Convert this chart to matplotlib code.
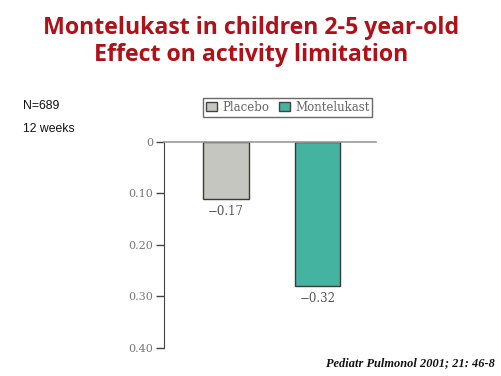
import matplotlib.pyplot as plt
from matplotlib.patches import Patch

# data
groups = ['Placebo', 'Montelukast']
bar_values = [-0.11, -0.28]          # drawn bar lengths
value_labels = ['\u22120.17', '\u22120.32']  # labels printed under the bars
y_ticks = [0, -0.10, -0.20, -0.30, -0.40]
y_ticklabels = ['0', '0.10', '0.20', '0.30', '0.40']
colors = ['#c6c6c0', '#44b3a0']

fig = plt.figure(figsize=(5.02, 3.76), dpi=100)
ax = fig.add_axes([0.3267, 0.0745, 0.4223, 0.5479])

x = range(len(groups))
bars = ax.bar(x, bar_values, width=0.5, color=colors, edgecolor='#3a3a3a', linewidth=1.0, zorder=2)

for xi, v, lab in zip(x, bar_values, value_labels):
    ax.text(xi, v - 0.012, lab, ha='center', va='top', fontsize=8.5,
            family='DejaVu Serif', color='#555555')

ax.set_xlim(-0.68, 1.64)
ax.set_ylim(-0.40, 0)
ax.set_yticks(y_ticks)
ax.set_yticklabels(y_ticklabels, family='DejaVu Serif', fontsize=8, color='#777777')
ax.set_xticks([])
ax.tick_params(axis='y', direction='out', length=6, width=1, color='#444444', pad=2)

for s in ['right', 'bottom']:
    ax.spines[s].set_visible(False)
ax.spines['left'].set_color('#444444')
ax.spines['top'].set_color('#999999')
ax.spines['top'].set_linewidth(1.2)

handles = [Patch(facecolor=c, edgecolor='#444444', label=g) for c, g in zip(colors, groups)]
fig.legend(handles=handles, loc='center', bbox_to_anchor=(287.5 / 502, 1 - 107.5 / 376),
           ncol=2, frameon=True, fancybox=False, edgecolor='#444444',
           prop={'family': 'DejaVu Serif', 'size': 8.5}, labelcolor='#666666',
           handlelength=1.0, handleheight=0.8, handletextpad=0.4, columnspacing=0.8,
           borderpad=0.25, borderaxespad=0)

fig.text(0.5, 1 - 28 / 376, 'Montelukast in children 2-5 year-old', ha='center', va='center',
         fontsize=16.7, fontweight='bold', family='Open Sans', color='#b01018')
fig.text(0.5, 1 - 55 / 376, 'Effect on activity limitation', ha='center', va='center',
         fontsize=16.7, fontweight='bold', family='Open Sans', color='#b01018')

fig.text(23 / 502, 1 - 106 / 376, 'N=689', ha='left', va='center', fontsize=8.8,
         family='Liberation Sans', color='#111111')
fig.text(23 / 502, 1 - 129 / 376, '12 weeks', ha='left', va='center', fontsize=8.8,
         family='Liberation Sans', color='#111111')

fig.text(495 / 502, 1 - 363 / 376, 'Pediatr Pulmonol 2001; 21: 46-8', ha='right', va='center',
         fontsize=8.9, fontweight='bold', style='italic', family='Liberation Serif', color='#111111')

fig.savefig('out.png', dpi=100)
